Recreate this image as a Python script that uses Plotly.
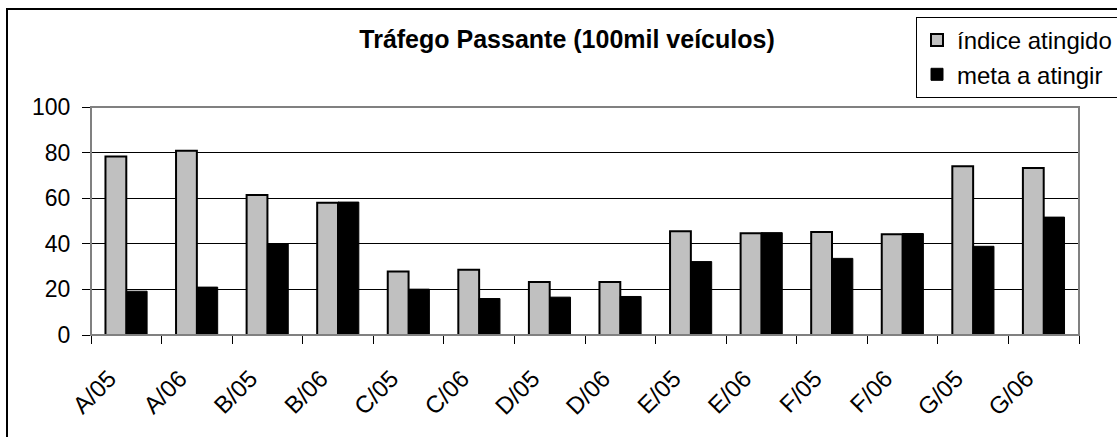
import plotly.graph_objects as go

categories = ["A/05", "A/06", "B/05", "B/06", "C/05", "C/06", "D/05",
              "D/06", "E/05", "E/06", "F/05", "F/06", "G/05", "G/06"]
indice_atingido = [78.3, 80.8, 61.4, 58.0, 27.9, 28.6, 23.3,
                   23.3, 45.5, 44.6, 45.2, 44.2, 74.0, 73.3]
meta_a_atingir = [19.2, 21.0, 40.1, 58.3, 20.1, 16.0, 16.6,
                  16.9, 32.2, 44.9, 33.6, 44.5, 38.9, 51.7]
y_ticks = [0, 20, 40, 60, 80, 100]

FONT = "Liberation Sans, Arial, sans-serif"

fig = go.Figure()
fig.add_trace(go.Bar(
    x=categories, y=indice_atingido, name="índice atingido",
    marker=dict(color="#C0C0C0", line=dict(color="#000000", width=2)),
))
fig.add_trace(go.Bar(
    x=categories, y=meta_a_atingir, name="meta a atingir",
    marker=dict(color="#000000", line=dict(color="#000000", width=1)),
))

L, R, T, B = 91, 38, 107, 102
W, H = 1117, 437
pw, ph = W - L - R, H - T - B

fig.update_layout(
    width=W, height=H,
    margin=dict(l=L, r=R, t=T, b=B, pad=0, autoexpand=False),
    paper_bgcolor="white", plot_bgcolor="white",
    barmode="group", bargap=0.41, bargroupgap=0,
    font=dict(family=FONT, color="#000000", size=22),
    title=dict(text="<b>Tráfego Passante (100mil veículos)</b>",
               font=dict(family=FONT, size=25, color="#000000"),
               x=567 / W, xref="container", xanchor="center",
               y=1 - 39 / H, yref="container", yanchor="middle"),
    legend=dict(x=(916 - L) / pw, xanchor="left",
                y=(H - B - 17) / ph, yanchor="top",
                xref="paper", yref="paper",
                bgcolor="white", bordercolor="#000000", borderwidth=1,
                font=dict(family=FONT, size=24, color="#000000"),
                itemwidth=30, tracegroupgap=0),
    xaxis=dict(
        type="category", tickangle=-45, tickson="boundaries",
        ticks="outside", ticklen=8, tickcolor="#000000", tickwidth=1,
        showline=True, linecolor="#000000", linewidth=1,
        showgrid=False, tickfont=dict(family=FONT, size=24),
        ticklabelstandoff=19, ticklabelshift=-17,
    ),
    yaxis=dict(
        range=[0, 100], tickvals=y_ticks, ticktext=[str(v) for v in y_ticks],
        ticks="outside", ticklen=8, tickcolor="#000000", tickwidth=1,
        showline=True, linecolor="#404040", linewidth=1,
        showgrid=True, gridcolor="#000000", gridwidth=1,
        zeroline=False, tickfont=dict(family=FONT, size=23),
        ticklabelstandoff=7,
    ),
)

# plot-area border (top and right gray edges)
fig.add_shape(type="rect", xref="paper", yref="paper", x0=0, x1=1, y0=0, y1=1,
              line=dict(color="#808080", width=2), layer="above")
# chart outer border
fig.add_shape(type="rect", xref="paper", yref="paper",
              x0=(7 - L) / pw, x1=(W + 60 - L) / pw,
              y0=(H - B - (H + 60)) / ph, y1=(H - B - 9) / ph,
              line=dict(color="#000000", width=2), layer="below")

fig.write_html("out.html")
